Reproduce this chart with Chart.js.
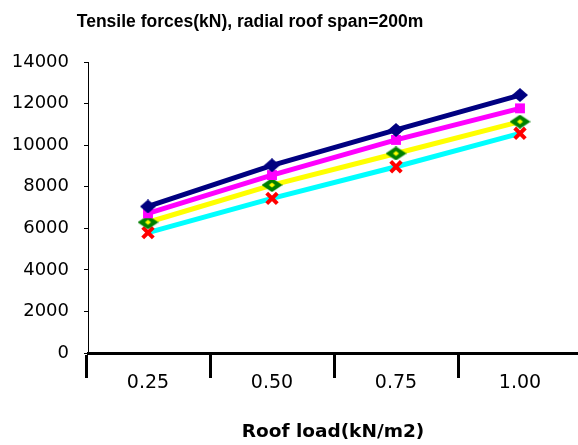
<!DOCTYPE html>
<html>
<head>
<meta charset="utf-8">
<script src="https://cdn.jsdelivr.net/npm/chart.js@4.4.1/dist/chart.umd.min.js"></script>
<style>
  html, body { margin: 0; padding: 0; background: #ffffff; }
  #wrap { width: 578px; height: 445px; position: relative; }
</style>
</head>
<body>
<div id="wrap"><canvas id="c" width="578" height="445"></canvas></div>
<script>
// ---- Data ----
const categories = ['0.25', '0.50', '0.75', '1.00'];
const seriesNavy    = [7050, 9030, 10730, 12410];
const seriesMagenta = [6720, 8560, 10250, 11770];
const seriesYellow  = [6290, 8080, 9600, 11130];
const seriesCyan    = [5790, 7440, 8960, 10570];
const yTicks = [0, 2000, 4000, 6000, 8000, 10000, 12000, 14000];
const chartTitle = 'Tensile forces(kN), radial roof span=200m';
const xTitle = 'Roof load(kN/m2)';

// ---- helpers ----
const xVals = categories.map(s => parseFloat(s));
const step = xVals[1] - xVals[0];
const toPts = arr => arr.map((v, i) => ({ x: xVals[i], y: v }));

function diamond(w, h, color, inner, iw, ih) {
  const c = document.createElement('canvas');
  c.width = w; c.height = h;
  const g = c.getContext('2d');
  g.fillStyle = color;
  g.beginPath();
  g.moveTo(w / 2, 0); g.lineTo(w, h / 2); g.lineTo(w / 2, h); g.lineTo(0, h / 2);
  g.closePath(); g.fill();
  if (inner) {
    g.fillStyle = inner;
    g.beginPath();
    g.moveTo(w / 2, h / 2 - ih / 2); g.lineTo(w / 2 + iw / 2, h / 2);
    g.lineTo(w / 2, h / 2 + ih / 2); g.lineTo(w / 2 - iw / 2, h / 2);
    g.closePath(); g.fill();
  }
  return c;
}
const navyMarker = diamond(16, 14, '#000080');
const greenMarker = diamond(21, 14, '#008000', '#FFFF00', 6, 5);

const titlesPlugin = {
  id: 'titles',
  afterDraw(chart) {
    const ctx = chart.ctx;
    const a = chart.chartArea;
    ctx.save();
    ctx.fillStyle = '#000000';
    ctx.textAlign = 'center';
    ctx.textBaseline = 'alphabetic';
    ctx.font = 'bold 17.5px "Liberation Sans", Arial, sans-serif';
    ctx.fillText(chartTitle, 250, 27);
    ctx.font = 'bold 18.5px "DejaVu Sans", sans-serif';
    ctx.fillText(xTitle, (a.left + a.right) / 2, 437);
    ctx.restore();
  }
};

const xMin = xVals[0] - step * 60 / 124;
const xMax = xMin + step * 490 / 124;

new Chart(document.getElementById('c'), {
  type: 'line',
  data: {
    datasets: [
      { data: toPts(seriesNavy), borderColor: '#000080', borderWidth: 5,
        pointStyle: navyMarker, pointRadius: 7 },
      { data: toPts(seriesMagenta), borderColor: '#FF00FF', borderWidth: 5,
        pointStyle: 'rect', pointRadius: 7, pointBackgroundColor: '#FF00FF',
        pointBorderColor: '#FF00FF', pointBorderWidth: 0 },
      { data: toPts(seriesYellow), borderColor: '#FFFF00', borderWidth: 5,
        pointStyle: greenMarker, pointRadius: 7 },
      { data: toPts(seriesCyan), borderColor: '#00FFFF', borderWidth: 5,
        pointStyle: 'crossRot', pointRadius: 7.5, pointBorderColor: '#FF0000',
        pointBorderWidth: 4, pointBackgroundColor: '#FF0000' }
    ]
  },
  options: {
    responsive: false,
    animation: false,
    devicePixelRatio: 1,
    clip: false,
    layout: { autoPadding: false, padding: { top: 62, left: 0, right: 0, bottom: 0 } },
    plugins: { legend: { display: false }, tooltip: { enabled: false }, title: { display: false } },
    elements: { line: { tension: 0, fill: false } },
    scales: {
      x: {
        type: 'linear',
        min: xMin,
        max: xMax,
        afterFit(s) { s.height = 92; s.paddingLeft = 0; s.paddingRight = 0; },
        afterBuildTicks(s) {
          const t = [];
          xVals.forEach(v => { t.push({ value: v - step / 2 }); t.push({ value: v }); });
          s.ticks = t;
        },
        border: { display: true, color: '#000000', width: 3 },
        grid: {
          drawOnChartArea: false,
          drawTicks: true,
          tickLength: 25,
          tickWidth: 3,
          tickColor: ctx => (ctx.index % 2 === 0 ? '#000000' : 'rgba(0,0,0,0)')
        },
        ticks: {
          autoSkip: false,
          maxRotation: 0,
          padding: -6,
          color: '#000000',
          font: { family: '"DejaVu Sans", sans-serif', size: 19 },
          callback(value, index) {
            const i = xVals.findIndex(v => Math.abs(v - value) < 1e-6);
            return i >= 0 ? categories[i] : '';
          }
        }
      },
      y: {
        min: 0,
        max: 14000,
        afterFit(s) { s.width = 88; s.paddingTop = 0; s.paddingBottom = 0; },
        afterBuildTicks(s) { s.ticks = yTicks.map(v => ({ value: v })); },
        border: { display: true, color: '#000000', width: 1 },
        grid: { drawOnChartArea: false, tickLength: 4, tickColor: '#000000', tickWidth: 1 },
        ticks: {
          padding: 15,
          color: '#000000',
          font: { family: '"DejaVu Sans", sans-serif', size: 18 },
          callback: v => String(v)
        }
      }
    }
  },
  plugins: [titlesPlugin]
});
</script>
</body>
</html>
